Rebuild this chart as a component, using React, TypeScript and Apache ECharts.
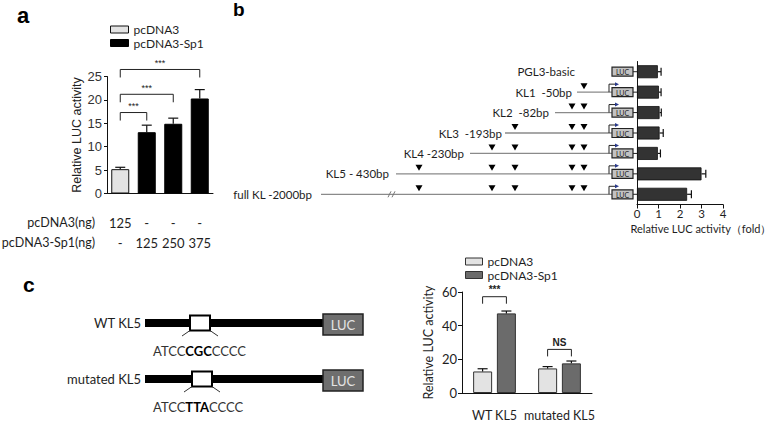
import React, { useEffect, useRef } from 'react';
import * as echarts from 'echarts';

// ---------- Panel a data ----------
const aCategories = ['1', '2', '3', '4'];
const aDoseControl = ['125', '-', '-', '-'];
const aDoseSp1 = ['-', '125', '250', '375'];
const aControl = [5.2, null, null, null];
const aSp1 = [null, 13.1, 14.9, 20.3];
const aErrors = [0.4, 1.5, 1.2, 1.9];
const aBracketFrom = [0, 0, 0];
const aBracketTo = [1, 2, 3];
const aBracketLevel = [17.3, 21.2, 26.5];
const aBracketLabels = ['***', '***', '***'];

// ---------- Panel b data ----------
const bRows = ['PGL3-basic', 'KL1  -50bp', 'KL2  -82bp', 'KL3  -193bp', 'KL4 -230bp', 'KL5 - 430bp', 'full KL -2000bp'];
const bValues = [0.97, 1.02, 1.05, 1.05, 0.97, 3.0, 2.33];
const bErrors = [0.15, 0.1, 0.08, 0.17, 0.12, 0.2, 0.2];

// ---------- Panel c data ----------
const cCategories = ['WT KL5', 'mutated KL5'];
const cControl = [12.8, 14.6];
const cSp1 = [47.3, 17.6];
const cControlErr = [1.6, 1.1];
const cSp1Err = [1.4, 1.4];
const cBracketCat = [0, 1];
const cBracketLevel = [57.2, 25.9];
const cBracketLabels = ['***', 'NS'];

// ---------- Schematic layout (panel b constructs, pixels) ----------
const bLabelRight = [575, 572, 549, 502, 464, 389, 312];
const bLineStart = [null, 577, 555, 505, 470, 396, 321];
const bSites = [[], [584], [572, 584], [515, 572, 584], [492, 515, 572, 584], [419, 492, 515, 572, 584], [419, 492, 515, 572, 584]];
const bBreak = [null, null, null, null, null, null, 390];

const SANS = 'Lato';
const ARIAL = 'Liberation Sans';
const INK = '#1e1e1e';

const C_OFF = 11.9; // half of (barWidth + gap) in panel c

function vErr(offset: number, cap: number) {
  return (params: any, api: any) => {
    const x = api.value(0);
    const top = api.value(1);
    const err = api.value(2);
    const p0 = api.coord([x, top]);
    const p1 = api.coord([x, top + err]);
    const px = p0[0] + offset;
    return {
      type: 'group',
      children: [
        { type: 'line', shape: { x1: px, y1: p0[1], x2: px, y2: p1[1] }, style: { stroke: '#111', lineWidth: 1.2 } },
        { type: 'line', shape: { x1: px - cap / 2, y1: p1[1], x2: px + cap / 2, y2: p1[1] }, style: { stroke: '#111', lineWidth: 1.2 } },
      ],
    };
  };
}

function bracket(fromX: (api: any, i: number) => number, toX: (api: any, i: number) => number, labels: string[], leg: number, bold: boolean, fs: number) {
  return (params: any, api: any) => {
    const i = params.dataIndex;
    const y = api.coord([0, api.value(1)])[1];
    const x1 = fromX(api, i);
    const x2 = toX(api, i);
    return {
      type: 'group',
      children: [
        { type: 'polyline', shape: { points: [[x1, y + leg], [x1, y], [x2, y], [x2, y + leg]] }, style: { stroke: '#222', lineWidth: 1, fill: 'none' } },
        { type: 'text', style: { x: (x1 + x2) / 2, y: y - 2, text: labels[i], align: 'center', verticalAlign: 'bottom', fontSize: fs, fontWeight: bold ? 'bold' : 'normal', fontFamily: ARIAL, fill: '#222' } },
      ],
    };
  };
}

function constructRow(params: any, api: any) {
  const i = api.value(1);
  const y = api.coord([0, i])[1];
  const children: any[] = [];
  children.push({ type: 'text', style: { x: bLabelRight[i], y, text: bRows[i], align: 'right', verticalAlign: 'middle', fontSize: 11.5, fontFamily: SANS, fill: INK } });
  const start = bLineStart[i];
  if (start !== null) {
    children.push({ type: 'line', shape: { x1: start, y1: y, x2: 612, y2: y }, style: { stroke: '#8a8a8a', lineWidth: 1.3 } });
    children.push({ type: 'polyline', shape: { points: [[609, y], [609, y - 8], [616, y - 8]] }, style: { stroke: '#222', lineWidth: 1, fill: 'none' } });
    children.push({ type: 'polygon', shape: { points: [[615, y - 10], [619, y - 8], [615, y - 6]] }, style: { fill: '#2a3a8a' } });
  }
  const br = bBreak[i];
  if (br !== null) {
    children.push({ type: 'line', shape: { x1: br - 2, y1: y + 3, x2: br + 1, y2: y - 3 }, style: { stroke: '#777', lineWidth: 1 } });
    children.push({ type: 'line', shape: { x1: br + 2, y1: y + 3, x2: br + 5, y2: y - 3 }, style: { stroke: '#777', lineWidth: 1 } });
  }
  bSites[i].forEach((sx) => {
    children.push({ type: 'polygon', shape: { points: [[sx - 3.5, y - 9], [sx + 3.5, y - 9], [sx, y - 3]] }, style: { fill: '#000' } });
  });
  children.push({ type: 'rect', shape: { x: 612, y: y - 4.5, width: 21, height: 9 }, style: { fill: '#c2c2c2', stroke: '#222', lineWidth: 1.2 } });
  children.push({ type: 'text', style: { x: 622.5, y: y + 0.5, text: 'LUC', align: 'center', verticalAlign: 'middle', fontSize: 7, fontFamily: SANS, fill: '#222' } });
  children.push({ type: 'line', shape: { x1: 633, y1: y, x2: 637, y2: y }, style: { stroke: '#222', lineWidth: 1 } });
  return { type: 'group', children };
}

function hErr(params: any, api: any) {
  const v = api.value(0);
  const i = api.value(1);
  const err = api.value(2);
  const p0 = api.coord([v, i]);
  const p1 = api.coord([v + err, i]);
  return {
    type: 'group',
    children: [
      { type: 'line', shape: { x1: p0[0], y1: p0[1], x2: p1[0], y2: p1[1] }, style: { stroke: '#111', lineWidth: 1.2 } },
      { type: 'line', shape: { x1: p1[0], y1: p1[1] - 4, x2: p1[0], y2: p1[1] + 4 }, style: { stroke: '#111', lineWidth: 1.2 } },
    ],
  };
}

function construct(label: string, y: number, boxX: number, seqMid: string) {
  return [
    { type: 'text', style: { x: 141, y, text: label, align: 'right', verticalAlign: 'middle', fontSize: 13, fontFamily: SANS, fill: INK } },
    { type: 'rect', shape: { x: 145, y: y - 4, width: 178, height: 8 }, style: { fill: '#000' } },
    { type: 'rect', shape: { x: boxX, y: y - 7.5, width: 20, height: 15 }, style: { fill: '#fff', stroke: '#000', lineWidth: 2 } },
    { type: 'line', shape: { x1: boxX, y1: y + 7.5, x2: boxX - 8, y2: y + 13 }, style: { stroke: '#333', lineWidth: 1 } },
    { type: 'line', shape: { x1: boxX + 20, y1: y + 7.5, x2: boxX + 28, y2: y + 13 }, style: { stroke: '#333', lineWidth: 1 } },
    { type: 'rect', shape: { x: 323, y: y - 9, width: 40, height: 21 }, style: { fill: '#6e6e6e', stroke: '#222', lineWidth: 1.5 } },
    { type: 'text', style: { x: 343, y: y + 1.5, text: 'LUC', align: 'center', verticalAlign: 'middle', fontSize: 13, fontFamily: SANS, fill: '#e4e4e4' } },
    {
      type: 'text',
      style: {
        x: 153, y: y + 28, text: '{n|ATCC}{b|' + seqMid + '}{n|CCCC}', verticalAlign: 'middle',
        rich: {
          n: { fontSize: 13, fontFamily: SANS, fill: '#333', color: '#333' },
          b: { fontSize: 13, fontFamily: SANS, fontWeight: 'bold', fill: '#000', color: '#000' },
        },
      },
    },
  ];
}

export default function App() {
  const ref = useRef<HTMLDivElement>(null);
  useEffect(() => {
    document.body.style.margin = '0';
    const chart = echarts.init(ref.current!, undefined, { renderer: 'svg' });
    const axisLine = { show: true, lineStyle: { color: '#111', width: 1 } };
    const option: any = {
      animation: false,
      backgroundColor: '#fff',
      grid: [
        { left: 107, top: 76.5, width: 106, height: 117 },
        { left: 637, top: 61.5, width: 86, height: 143 },
        { left: 462, top: 292, width: 130, height: 102 },
      ],
      legend: [
        {
          left: 110, top: 23, padding: 0, orient: 'vertical', icon: 'rect', itemWidth: 18, itemHeight: 7, itemGap: 0.5, itemTextGap: 5,
          textStyle: { fontFamily: SANS, fontSize: 12, lineHeight: 13, color: INK },
          data: [
            { name: 'pcDNA3', itemStyle: { color: '#e3e3e3', borderColor: '#111', borderWidth: 1 } },
            { name: 'pcDNA3-Sp1', itemStyle: { color: '#000', borderColor: '#000', borderWidth: 1 } },
          ],
        },
        {
          left: 465, top: 255, padding: 0, orient: 'vertical', icon: 'rect', itemWidth: 17, itemHeight: 7, itemGap: 0.5, itemTextGap: 5,
          textStyle: { fontFamily: SANS, fontSize: 12, lineHeight: 13, color: INK },
          data: [
            { name: 'pcDNA3', itemStyle: { color: '#e3e3e3', borderColor: '#333', borderWidth: 1 } },
            { name: 'pcDNA3-Sp1', itemStyle: { color: '#6b6b6b', borderColor: '#333', borderWidth: 1 } },
          ],
        },
      ],
      xAxis: [
        {
          type: 'category', gridIndex: 0, data: aCategories, axisLine,
          axisTick: { alignWithLabel: true, length: 4, lineStyle: { color: '#111' } },
          axisLabel: { interval: 0, formatter: (v: string, idx: number) => aDoseControl[idx] + '\n' + aDoseSp1[idx], margin: 19, lineHeight: 20, fontFamily: SANS, fontSize: 13, color: INK },
        },
        {
          type: 'value', gridIndex: 1, min: 0, max: 4, interval: 1, axisLine, splitLine: { show: false },
          axisTick: { show: true, length: 4, lineStyle: { color: '#111' } },
          axisLabel: { margin: 3, fontFamily: SANS, fontSize: 11.5, lineHeight: 12, color: INK },
          name: 'Relative LUC activity（fold）', nameLocation: 'middle', nameGap: 18,
          nameTextStyle: { fontFamily: SANS, fontSize: 11, lineHeight: 12, color: INK, padding: [0, 0, 0, 42] },
        },
        {
          type: 'category', gridIndex: 2, data: cCategories, axisLine,
          axisTick: { alignWithLabel: true, length: 4, lineStyle: { color: '#111' } },
          axisLabel: { interval: 0, margin: 16, fontFamily: SANS, fontSize: 12.5, color: INK },
        },
      ],
      yAxis: [
        {
          type: 'value', gridIndex: 0, min: 0, max: 25, interval: 5, axisLine, splitLine: { show: false },
          axisTick: { show: true, length: 3, lineStyle: { color: '#111' } },
          axisLabel: { margin: 5, fontFamily: ARIAL, fontSize: 13, color: '#333' },
          name: 'Relative LUC activity', nameLocation: 'middle', nameGap: 22,
          nameTextStyle: { fontFamily: ARIAL, fontSize: 12.5, color: '#222' },
        },
        {
          type: 'category', gridIndex: 1, data: bRows, inverse: true, axisLine,
          axisTick: { show: false }, axisLabel: { show: false },
        },
        {
          type: 'value', gridIndex: 2, min: 0, max: 60, interval: 20, axisLine, splitLine: { show: false },
          axisTick: { show: true, length: 4, lineStyle: { color: '#111' } },
          axisLabel: { margin: 5, fontFamily: SANS, fontSize: 13, color: INK },
          name: 'Relative LUC activity', nameLocation: 'middle', nameGap: 27,
          nameTextStyle: { fontFamily: SANS, fontSize: 12.5, color: INK },
        },
      ],
      series: [
        // panel a
        { name: 'pcDNA3', type: 'bar', xAxisIndex: 0, yAxisIndex: 0, data: aControl, barWidth: 18, barGap: '-100%', itemStyle: { color: '#e3e3e3', borderColor: '#111', borderWidth: 1 } },
        { name: 'pcDNA3-Sp1', type: 'bar', xAxisIndex: 0, yAxisIndex: 0, data: aSp1, barWidth: 18, barGap: '-100%', itemStyle: { color: '#000', borderColor: '#000', borderWidth: 1 } },
        {
          type: 'custom', xAxisIndex: 0, yAxisIndex: 0, silent: true, clip: false, z: 5,
          data: aCategories.map((_, i) => [i, (aControl[i] ?? aSp1[i]) as number, aErrors[i]]),
          renderItem: vErr(0, 10),
        },
        {
          type: 'custom', xAxisIndex: 0, yAxisIndex: 0, silent: true, clip: false, z: 5,
          data: aBracketLevel.map((lv, i) => [aBracketFrom[i], lv]),
          renderItem: bracket(
            (api, i) => api.coord([aBracketFrom[i], 0])[0],
            (api, i) => api.coord([aBracketTo[i], 0])[0],
            aBracketLabels, 8, false, 9),
        },
        // panel b
        { name: 'Relative LUC activity (fold)', type: 'bar', xAxisIndex: 1, yAxisIndex: 1, data: bValues, barWidth: 13, itemStyle: { color: '#333', borderColor: '#111', borderWidth: 0.8 } },
        {
          type: 'custom', xAxisIndex: 1, yAxisIndex: 1, silent: true, clip: false, z: 5,
          data: bValues.map((v, i) => [v, i, bErrors[i]]),
          renderItem: hErr,
        },
        {
          type: 'custom', xAxisIndex: 1, yAxisIndex: 1, silent: true, clip: false, z: 6,
          data: bRows.map((_, i) => [0, i]),
          renderItem: constructRow,
        },
        // panel c
        { name: 'pcDNA3', type: 'bar', xAxisIndex: 2, yAxisIndex: 2, data: cControl, barWidth: 19, barGap: '25%', itemStyle: { color: '#e3e3e3', borderColor: '#333', borderWidth: 1 } },
        { name: 'pcDNA3-Sp1', type: 'bar', xAxisIndex: 2, yAxisIndex: 2, data: cSp1, barWidth: 19, barGap: '25%', itemStyle: { color: '#6b6b6b', borderColor: '#333', borderWidth: 1 } },
        {
          type: 'custom', xAxisIndex: 2, yAxisIndex: 2, silent: true, clip: false, z: 5,
          data: cControl.map((v, i) => [i, v, cControlErr[i]]),
          renderItem: vErr(-C_OFF, 10),
        },
        {
          type: 'custom', xAxisIndex: 2, yAxisIndex: 2, silent: true, clip: false, z: 5,
          data: cSp1.map((v, i) => [i, v, cSp1Err[i]]),
          renderItem: vErr(C_OFF, 10),
        },
        {
          type: 'custom', xAxisIndex: 2, yAxisIndex: 2, silent: true, clip: false, z: 5,
          data: cBracketLevel.map((lv, i) => [cBracketCat[i], lv]),
          renderItem: bracket(
            (api, i) => api.coord([cBracketCat[i], 0])[0] - C_OFF,
            (api, i) => api.coord([cBracketCat[i], 0])[0] + C_OFF,
            cBracketLabels, 7, true, 10),
        },
      ],
      graphic: [
        { type: 'text', style: { x: 17, y: 4, text: 'a', fontSize: 22, fontWeight: 'bold', fontFamily: ARIAL, fill: '#000' } },
        { type: 'text', style: { x: 233, y: 0, text: 'b', fontSize: 19, fontWeight: 'bold', fontFamily: ARIAL, fill: '#000' } },
        { type: 'text', style: { x: 23, y: 274, text: 'c', fontSize: 21, fontWeight: 'bold', fontFamily: ARIAL, fill: '#000' } },
        { type: 'text', style: { x: 95, y: 222, text: 'pcDNA3(ng)', align: 'right', verticalAlign: 'middle', fontSize: 12.5, fontFamily: SANS, fill: INK } },
        { type: 'text', style: { x: 95, y: 242, text: 'pcDNA3-Sp1(ng)', align: 'right', verticalAlign: 'middle', fontSize: 12.5, fontFamily: SANS, fill: INK } },
        ...construct('WT KL5', 323, 190, 'CGC'),
        ...construct('mutated KL5', 379, 192, 'TTA'),
      ],
    };
    chart.setOption(option);
    return () => chart.dispose();
  }, []);
  return <div ref={ref} style={{ width: 778, height: 422 }} />;
}
